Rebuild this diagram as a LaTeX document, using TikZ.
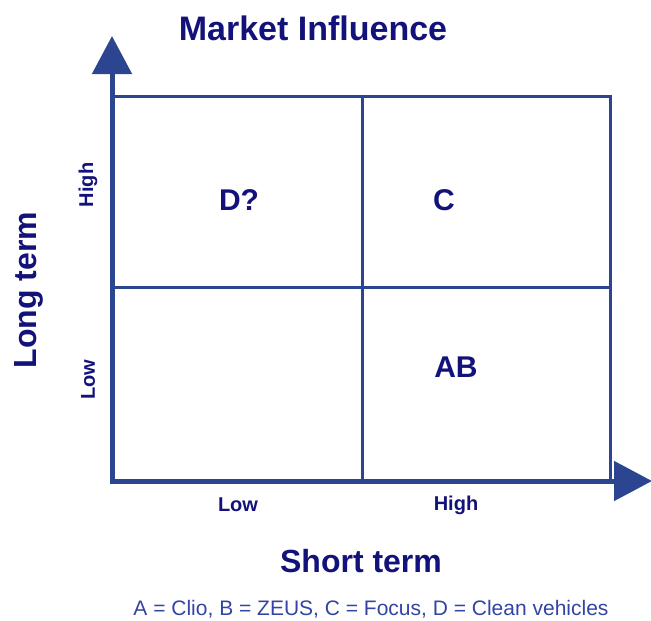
\documentclass[tikz,border=0pt]{standalone}
\usepackage{fontspec}
\setmainfont{Liberation Sans}
\usetikzlibrary{arrows.meta}
\definecolor{navytext}{HTML}{12127A}
\definecolor{gridblue}{HTML}{2C4590}
\definecolor{notetext}{HTML}{3444A4}
\tikzset{
  grid/.style={draw=gridblue, line width=3pt},
  axisline/.style={draw=gridblue, line width=5pt, -{Triangle[length=38pt,width=39pt]}, color=gridblue},
  title/.style={text=navytext, font=\fontsize{32}{38}\selectfont\bfseries, inner sep=0pt},
  cell/.style={text=navytext, font=\fontsize{30}{36}\selectfont\bfseries, inner sep=0pt},
  tick/.style={text=navytext, font=\fontsize{20}{24}\selectfont\bfseries, inner sep=0pt},
  note/.style={text=notetext, font=\fontsize{21}{25}\selectfont, inner sep=0pt}
}
\begin{document}
\begin{tikzpicture}[x=1pt,y=-1pt]
\useasboundingbox (0,0) rectangle (651,621);
% corners of the matrix
\coordinate (tl) at (112,96);
\coordinate (br) at (610,481);
\coordinate (topmid) at (362,96);
\coordinate (botmid) at (362,481);
\coordinate (leftmid) at (112,287);
\coordinate (rightmid) at (610,287);
% quadrant grid
\draw[grid] (tl) rectangle (br);
\draw[grid] (topmid) -- (botmid);
\draw[grid] (leftmid) -- (rightmid);
% axes with arrowheads
\coordinate (origin) at (112,483);
\coordinate (ytip) at (112,36);
\coordinate (xorigin) at (110,481);
\coordinate (xtip) at (652,481);
\draw[axisline] (origin) -- (ytip);
\draw[axisline] (xorigin) -- (xtip);
% titles
\node[title, font=\fontsize{34}{40}\selectfont\bfseries] (mi) at (313,28) {Market Influence};
\node[title] (st) at (361,561) {Short term};
\node[title, rotate=90] (lt) at (29,290) {Long term};
% axis ticks
\node[tick, rotate=90] (yhigh) at (88,185) {High};
\node[tick, rotate=90] (ylow) at (88,380) {Low};
\node[tick] (xlow) at (238,505) {Low};
\node[tick] (xhigh) at (456,505) {High};
% quadrant entries
\node[cell] (d) at (239,200) {D?};
\node[cell] (c) at (444,200) {C};
\node[cell] (ab) at (456,367) {AB};
% legend
\node[note] (legend) at (371,609) {A = Clio, B = ZEUS, C = Focus, D = Clean vehicles};
\end{tikzpicture}
\end{document}
